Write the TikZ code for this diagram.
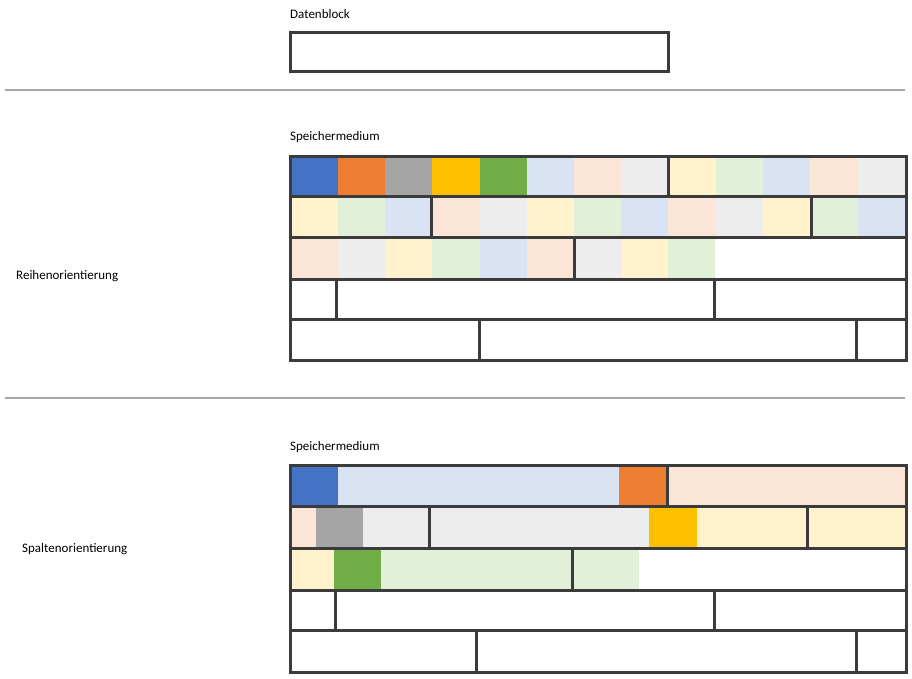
\documentclass[tikz,border=0pt]{standalone}
\usepackage{fontspec}
\setmainfont{Carlito}
\definecolor{cB}{HTML}{4472C4}\definecolor{cO}{HTML}{ED7D31}\definecolor{cG}{HTML}{A5A5A5}
\definecolor{cY}{HTML}{FFC000}\definecolor{cN}{HTML}{70AD47}\definecolor{lB}{HTML}{DAE3F3}
\definecolor{lP}{HTML}{FBE5D6}\definecolor{lG}{HTML}{EDEDED}\definecolor{lY}{HTML}{FFF2CC}
\definecolor{lN}{HTML}{E2F0D9}\definecolor{frame}{HTML}{3B3B3B}\definecolor{sep}{HTML}{A6A6A6}
\tikzset{lbl/.style={anchor=west,inner sep=0pt,font=\fontsize{13}{15}\selectfont},
  fr/.style={draw=frame,line width=3pt},
  sepl/.style={draw=sep,line width=1.5pt}}
\newcommand{\cells}[3]{\foreach \a/\b/\c in {#3}{\fill[\c] (\a,#1) rectangle (\b,#2);}}
\begin{document}
\begin{tikzpicture}[x=1pt,y=-1pt]
\useasboundingbox (0,0) rectangle (912,679);
\node[lbl] (t1) at (290,14) {Datenblock};
\draw[fr] (290,33) rectangle (668,72);
\draw[sepl] (5,90) -- (905,90);
\draw[sepl] (5,398) -- (905,398);
\node[lbl] (t2) at (290,137) {Speichermedium};
\node[lbl] (t3) at (16,276) {Reihenorientierung};
\node[lbl] (t4) at (290,447) {Speichermedium};
\node[lbl] (t5) at (22,549) {Spaltenorientierung};
% row orientation
\cells{157}{196}{290/338/cB,338/385/cO,385/432/cG,432/480/cY,480/527/cN,527/574/lB,574/621/lP,621/668/lG,668/716/lY,716/763/lN,763/810/lB,810/858/lP,858/906/lG}
\cells{196}{237}{290/338/lY,338/385/lN,385/431/lB,431/480/lP,480/527/lG,527/574/lY,574/621/lN,621/668/lB,668/716/lP,716/763/lG,763/811/lY,811/858/lN,858/906/lB}
\cells{237}{279}{290/338/lP,338/385/lG,385/432/lY,432/480/lN,480/527/lB,527/574/lP,574/621/lG,621/668/lY,668/715/lN}
\draw[fr] (290,157) rectangle (906,360);
\foreach \y in {196,237,279,319} \draw[fr] (290,\y) -- (906,\y);
\draw[fr] (668,157) -- (668,196);
\draw[fr] (431,196) -- (431,237) (811,196) -- (811,237);
\draw[fr] (574,237) -- (574,279);
\draw[fr] (336,279) -- (336,319) (714,279) -- (714,319);
\draw[fr] (479,319) -- (479,360) (856,319) -- (856,360);
% column orientation
\cells{465}{506}{290/338/cB,338/619/lB,619/667/cO,667/906/lP}
\cells{506}{548}{290/316/lP,316/363/cG,363/649/lG,649/697/cY,697/906/lY}
\cells{548}{590}{290/334/lY,334/381/cN,381/639/lN}
\draw[fr] (290,465) rectangle (906,672);
\foreach \y in {506,548,590,630} \draw[fr] (290,\y) -- (906,\y);
\draw[fr] (667,465) -- (667,506);
\draw[fr] (429,506) -- (429,548) (807,506) -- (807,548);
\draw[fr] (572,548) -- (572,590);
\draw[fr] (335,590) -- (335,630) (714,590) -- (714,630);
\draw[fr] (476,630) -- (476,672) (856,630) -- (856,672);
\end{tikzpicture}
\end{document}
